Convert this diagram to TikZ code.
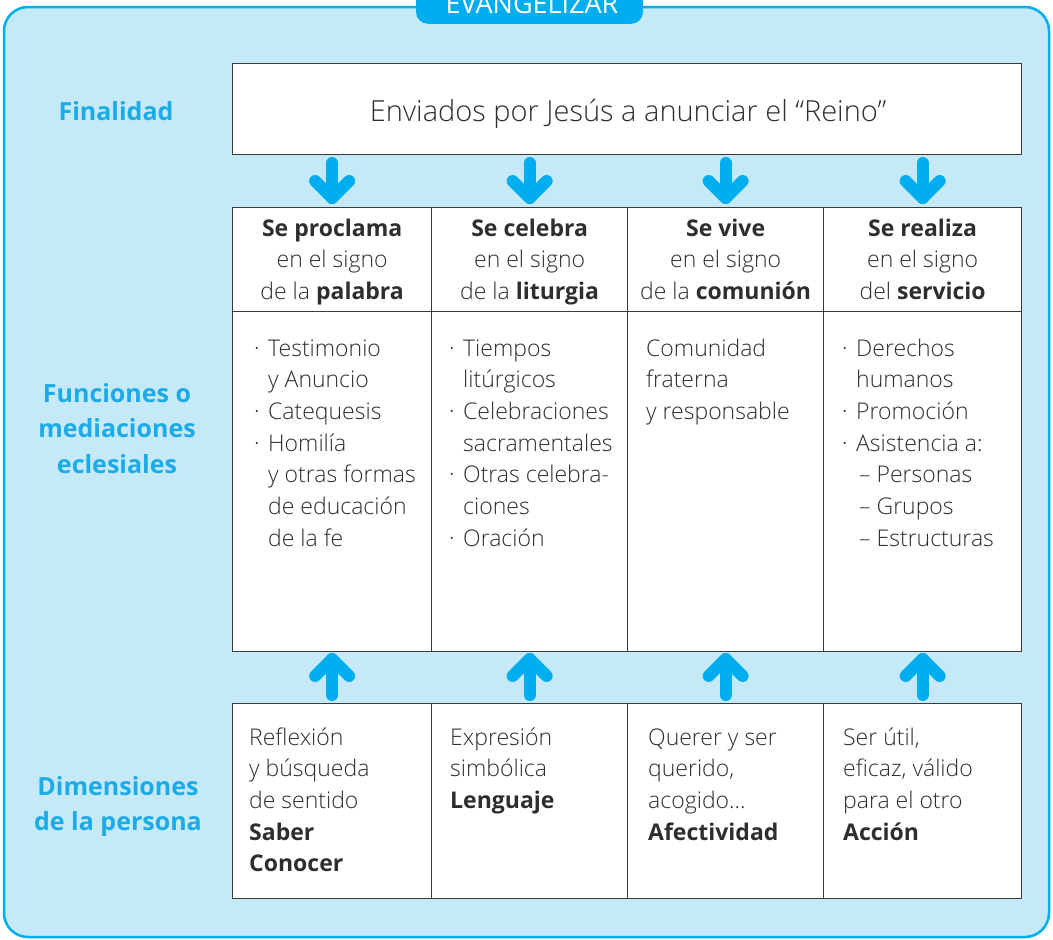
\documentclass[tikz,border=0pt]{standalone}
\usepackage{fontspec}
\setmainfont{Open Sans}[UprightFont=* Light, BoldFont=* Bold]
\usetikzlibrary{calc}
\definecolor{cy}{HTML}{00AEEF}
\definecolor{lightcy}{HTML}{C6E9F8}
\definecolor{lab}{HTML}{1AABE8}
\definecolor{txt}{HTML}{2E2E2E}
\definecolor{bx}{HTML}{3A3A3A}
\newcommand\bu{\makebox[14pt][l]{·}}
\newcommand\ii{\hspace*{14pt}}
\newcommand\dd{\hspace*{17pt}}
\tikzset{
  frame/.style={fill=lightcy, draw=cy, line width=2.5pt, rounded corners=24pt},
  tab/.style={fill=cy, rounded corners=12pt},
  cell/.style={draw=bx, fill=white, line width=1.3pt, inner sep=0pt},
  body/.style={text=txt, font=\fontsize{23}{31.7}\selectfont, inner sep=0pt},
  lbl/.style={text=lab, font=\fontsize{25}{35.5}\selectfont\bfseries, align=center, inner sep=0pt, anchor=base},
  arr/.style={draw=cy, line width=12pt, line cap=round, line join=round},
}
\begin{document}
\begin{tikzpicture}[x=1pt,y=-1pt]
\useasboundingbox (0,0) rectangle (1053,940);
\fill[white] (0,0) rectangle (1053,940);
\path[frame] (4,7) rectangle (1049,937);
\node[tab, minimum width=227pt, minimum height=60pt, anchor=south] (tab) at (529.5,24) {};
\node[anchor=base, text=white, font=\fontsize{27}{30}\selectfont\addfontfeature{UprightFont=Open Sans}, inner sep=0pt] (tabtext) at (532,13) {EVANGELIZAR};
% top box
\node[cell, anchor=north west, minimum width=789pt, minimum height=91pt] (fin) at (232,63) {};
\node[body, anchor=base, font=\fontsize{29}{32}\selectfont] (fintext) at (628,121) {Enviados por Jesús a anunciar el “Reino”};
% headers
\node[cell, anchor=north west, minimum width=199pt, minimum height=104pt] (h1) at (232,207) {};
\node[cell, anchor=north west, minimum width=196pt, minimum height=104pt] (h2) at (431,207) {};
\node[cell, anchor=north west, minimum width=196pt, minimum height=104pt] (h3) at (627,207) {};
\node[cell, anchor=north west, minimum width=198pt, minimum height=104pt] (h4) at (823,207) {};
\node[body, anchor=base, align=center] (ht1) at (h1.north |- 0,299.4) {\textbf{Se proclama}\\en el signo\\de la \textbf{palabra}};
\node[body, anchor=base, align=center] (ht2) at (h2.north |- 0,299.4) {\textbf{Se celebra}\\en el signo\\de la \textbf{liturgia}};
\node[body, anchor=base, align=center] (ht3) at (h3.north |- 0,299.4) {\textbf{Se vive}\\en el signo\\de la \textbf{comunión}};
\node[body, anchor=base, align=center] (ht4) at (h4.north |- 0,299.4) {\textbf{Se realiza}\\en el signo\\del \textbf{servicio}};
% middle cells
\node[cell, anchor=north west, minimum width=199pt, minimum height=340pt] (m1) at (232,311) {};
\node[cell, anchor=north west, minimum width=196pt, minimum height=340pt] (m2) at (431,311) {};
\node[cell, anchor=north west, minimum width=196pt, minimum height=340pt] (m3) at (627,311) {};
\node[cell, anchor=north west, minimum width=198pt, minimum height=340pt] (m4) at (823,311) {};
\node[body, anchor=base west, align=left] (t1) at (254,546.2) {\bu Testimonio\\\ii y Anuncio\\\bu Catequesis\\\bu Homilía\\\ii y otras formas\\\ii de educación\\\ii de la fe};
\node[body, anchor=base west, align=left] (t2) at (449,546.2) {\bu Tiempos\\\ii litúrgicos\\\bu Celebraciones\\\ii sacramentales\\\bu Otras celebra-\\\ii ciones\\\bu Oración};
\node[body, anchor=base west, align=left] (t3) at (646,419.4) {Comunidad\\fraterna\\y responsable};
\node[body, anchor=base west, align=left] (t4) at (842,546.2) {\bu Derechos\\\ii humanos\\\bu Promoción\\\bu Asistencia a:\\\dd – Personas\\\dd – Grupos\\\dd – Estructuras};
% bottom cells
\node[cell, anchor=north west, minimum width=199pt, minimum height=195pt] (b1) at (232,703) {};
\node[cell, anchor=north west, minimum width=196pt, minimum height=195pt] (b2) at (431,703) {};
\node[cell, anchor=north west, minimum width=196pt, minimum height=195pt] (b3) at (627,703) {};
\node[cell, anchor=north west, minimum width=198pt, minimum height=195pt] (b4) at (823,703) {};
\node[body, anchor=base west, align=left] (u1) at (249,871.8) {Reflexión\\y búsqueda\\de sentido\\\textbf{Saber}\\\textbf{Conocer}};
\node[body, anchor=base west, align=left] (u2) at (450,808.4) {Expresión\\simbólica\\\textbf{Lenguaje}};
\node[body, anchor=base west, align=left] (u3) at (648,840.1) {Querer y ser\\querido,\\acogido…\\\textbf{Afectividad}};
\node[body, anchor=base west, align=left] (u4) at (843,840.1) {Ser útil,\\eficaz, válido\\para el otro\\\textbf{Acción}};
% labels
\node[lbl] (l1) at (116,120) {Finalidad};
\node[lbl] (l2) at (117,473) {Funciones o\\mediaciones\\eclesiales};
\node[lbl, font=\fontsize{25}{35}\selectfont\bfseries] (l3) at (118,830) {Dimensiones\\de la persona};
% arrows down
\foreach \h in {h1,h2,h3,h4}{
  \draw[arr] ($(\h.north)+(0,-44)$) -- ($(\h.north)+(0,-9)$);
  \draw[arr] ($(\h.north)+(-17,-26)$) -- ($(\h.north)+(0,-9)$) -- ($(\h.north)+(17,-26)$);
}
% arrows up
\foreach \b in {b1,b2,b3,b4}{
  \draw[arr] ($(\b.north)+(0,-8)$) -- ($(\b.north)+(0,-44)$);
  \draw[arr] ($(\b.north)+(-17,-27)$) -- ($(\b.north)+(0,-44)$) -- ($(\b.north)+(17,-27)$);
}
\end{tikzpicture}
\end{document}
